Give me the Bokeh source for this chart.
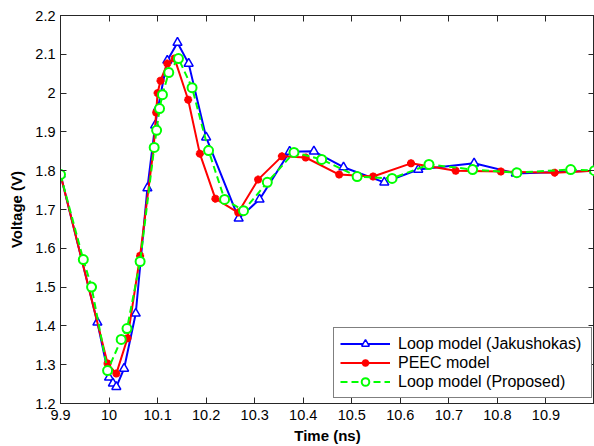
from bokeh.plotting import figure
from bokeh.models import Range1d, FixedTicker, LinearAxis, CustomJSTickFormatter
from bokeh.embed import file_html
from bokeh.resources import INLINE

# ---- data ----
t_jak = [9.9, 9.976, 10.0, 10.008, 10.015, 10.031, 10.055, 10.079, 10.095, 10.101,
         10.12, 10.141, 10.164, 10.2, 10.267, 10.31, 10.372, 10.422, 10.483, 10.567,
         10.637, 10.752, 10.838, 11.0]
v_jak = [1.79, 1.409, 1.267, 1.252, 1.243, 1.29, 1.432, 1.755, 1.917, 1.963,
         2.084, 2.13, 2.076, 1.886, 1.677, 1.726, 1.849, 1.85, 1.809, 1.77,
         1.803, 1.819, 1.793, 1.8]

t_peec = [9.9, 9.997, 10.015, 10.038, 10.064, 10.092, 10.097, 10.1, 10.106, 10.12,
          10.135, 10.163, 10.187, 10.219, 10.266, 10.307, 10.356, 10.405, 10.474,
          10.544, 10.622, 10.714, 10.807, 10.918, 11.0]
v_peec = [1.79, 1.303, 1.277, 1.368, 1.581, 1.86, 1.95, 2.0, 2.032, 2.076,
          2.089, 1.983, 1.844, 1.728, 1.692, 1.777, 1.837, 1.834, 1.79,
          1.785, 1.819, 1.80, 1.798, 1.795, 1.8]

t_prop = [9.9, 9.947, 9.964, 9.997, 10.025, 10.037, 10.064, 10.093, 10.098, 10.104,
          10.110, 10.123, 10.143, 10.171, 10.205, 10.238, 10.277, 10.326, 10.381,
          10.438, 10.511, 10.583, 10.659, 10.749, 10.840, 10.951, 11.0]
v_prop = [1.79, 1.571, 1.50, 1.285, 1.365, 1.393, 1.566, 1.86, 1.904, 1.96,
          1.996, 2.053, 2.089, 2.014, 1.852, 1.726, 1.697, 1.77, 1.847,
          1.829, 1.785, 1.78, 1.816, 1.803, 1.795, 1.803, 1.8]

x_ticks = [9.9, 10.0, 10.1, 10.2, 10.3, 10.4, 10.5, 10.6, 10.7, 10.8, 10.9]
y_ticks = [1.2, 1.3, 1.4, 1.5, 1.6, 1.7, 1.8, 1.9, 2.0, 2.1, 2.2]

labels = ["Loop model (Jakushokas)", "PEEC model", "Loop model (Proposed)"]
x_title = "Time (ns)"
y_title = "Voltage (V)"

FONT = "Liberation Sans"
AX = "#262626"

p = figure(width=594, height=446, x_range=Range1d(9.9, 11.0), y_range=Range1d(1.2, 2.2),
           output_backend="svg", toolbar_location=None,
           min_border_left=60, min_border_right=0, min_border_top=15, min_border_bottom=43)
p.background_fill_color = "white"
p.border_fill_color = "white"
p.outline_line_color = AX
p.outline_line_width = 1
p.xgrid.visible = False
p.ygrid.visible = False

fmt = CustomJSTickFormatter(code="return String(Math.round(tick*10)/10);")
blank = CustomJSTickFormatter(code="return '';")

p.xaxis.ticker = FixedTicker(ticks=x_ticks)
p.yaxis.ticker = FixedTicker(ticks=y_ticks)
p.xaxis.formatter = fmt
p.yaxis.formatter = fmt
for ax in (p.xaxis[0], p.yaxis[0]):
    ax.major_tick_in = 6
    ax.major_tick_out = 0
    ax.minor_tick_line_color = None
    ax.axis_line_color = AX
    ax.major_tick_line_color = AX
    ax.major_label_text_font = FONT
    ax.major_label_text_font_size = "14.5px"
    ax.major_label_text_color = "black"
    ax.axis_label_text_font = FONT
    ax.axis_label_text_font_size = "15px"
    ax.axis_label_text_font_style = "bold"
    ax.axis_label_text_color = "black"
p.xaxis.axis_label = x_title
p.yaxis.axis_label = y_title
p.xaxis.major_label_standoff = 6
p.yaxis.major_label_standoff = 5
p.xaxis.axis_label_standoff = 4
p.yaxis.axis_label_standoff = 7

top = LinearAxis(ticker=FixedTicker(ticks=x_ticks), formatter=blank,
                 major_label_text_font_size="0px", major_label_standoff=0,
                 major_tick_in=6, major_tick_out=0, minor_tick_line_color=None,
                 axis_line_color=AX, major_tick_line_color=AX)
right = LinearAxis(ticker=FixedTicker(ticks=y_ticks), formatter=blank,
                   major_label_text_font_size="0px", major_label_standoff=0,
                   major_tick_in=6, major_tick_out=0, minor_tick_line_color=None,
                   axis_line_color=AX, major_tick_line_color=AX)
p.add_layout(top, "above")
p.add_layout(right, "right")

BLUE, RED, GREEN = "#0000FF", "#FF0000", "#00FF00"

p.line(t_jak, v_jak, line_color=BLUE, line_width=2, legend_label=labels[0])
p.scatter(t_jak, v_jak, marker="triangle", size=9, line_color=BLUE, fill_color="white",
          line_width=1.5, legend_label=labels[0])

p.line(t_peec, v_peec, line_color=RED, line_width=2, legend_label=labels[1])
p.scatter(t_peec, v_peec, marker="asterisk", size=8, line_color=RED, line_width=2.5,
          legend_label=labels[1])

p.line(t_prop, v_prop, line_color=GREEN, line_width=2, line_dash="7 4", legend_label=labels[2])
p.scatter(t_prop, v_prop, marker="circle", size=9, line_color=GREEN, fill_color="white",
          line_width=2, legend_label=labels[2])

lg = p.legend[0]
lg.location = (273, 5)
lg.label_text_font = FONT
lg.label_text_font_size = "16px"
lg.label_text_color = "black"
lg.glyph_width = 50
lg.glyph_height = 19
lg.label_height = 19
lg.label_width = 187
lg.label_standoff = 8
lg.padding = 6
lg.spacing = 0
lg.margin = 0
lg.border_line_color = "black"
lg.border_line_width = 1
lg.background_fill_color = "white"
lg.background_fill_alpha = 1

open("out.html", "w").write(file_html(p, INLINE))
